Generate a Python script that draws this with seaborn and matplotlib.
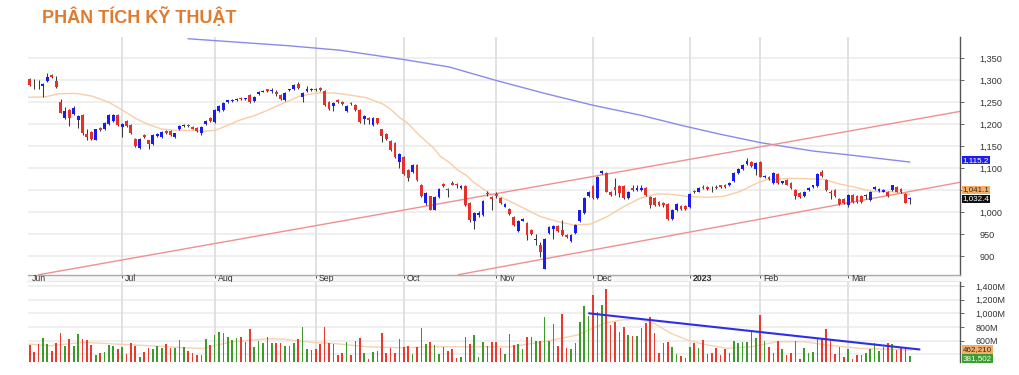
import numpy as np
import pandas as pd
import matplotlib
matplotlib.use("Agg")
import matplotlib.pyplot as plt
import seaborn as sns

# ---------------- DATA ----------------
opens = [1302,1290,1289,1286,1298,1311,1299,1251,1213,1232,1224,1209,1220,1178,1182,1165,1192,1189,1201,1208,
         1220,1193,1208,1199,1167,1146,1175,1163,1154,1173,1170,1184,1184,1172,1188,1196,1199,1194,1191,1180,
         1201,1214,1205,1230,1233,1251,1253,1255,1260,1257,1266,1253,1269,1273,1279,1276,1273,1266,1254,1277,
         1279,1292,1262,1275,1277,1281,1283,1275,1251,1241,1256,1251,1230,1248,1243,1233,1212,1214,1199,1213,
         1188,1178,1161,1158,1114,1125,1097,1092,1107,1063,1021,1036,1006,1034,1064,1053,1067,1064,1054,1059,
         1021,980,993,994,1044,1035,1041,1032,1013,1007,990,958,981,975,960,938,925,872,952,963,
         969,960,948,935,953,979,998,1036,1059,1032,1089,1089,1047,1057,1059,1060,1032,1056,1050,1051,
         1055,1034,1032,1024,1021,1018,985,1005,1015,1015,1011,1049,1047,1058,1058,1053,1058,1061,1062,1061,
         1070,1090,1098,1110,1115,1099,1115,1080,1081,1067,1087,1066,1074,1066,1051,1043,1036,1051,1057,1060,
         1091,1074,1045,1050,1030,1030,1017,1040,1037,1036,1037,1028,1053,1049,1047,1047,1050,1057,1053,1042,
         1029]
highs = [1304,1302,1300,1294,1317,1313,1309,1258,1239,1235,1242,1220,1222,1188,1185,1190,1194,1205,1222,1222,
         1222,1203,1210,1201,1169,1169,1178,1165,1177,1180,1184,1186,1186,1181,1198,1201,1201,1196,1193,1195,
         1210,1216,1234,1243,1250,1256,1257,1259,1262,1260,1268,1264,1275,1278,1281,1283,1277,1268,1273,1281,
         1291,1295,1273,1286,1283,1283,1285,1277,1253,1250,1258,1253,1244,1250,1245,1235,1220,1216,1216,1215,
         1190,1180,1163,1160,1135,1127,1099,1110,1109,1065,1046,1038,1036,1054,1067,1056,1070,1066,1061,1061,
         1023,1000,1002,1028,1048,1038,1046,1034,1021,1009,992,983,986,977,962,950,933,942,969,971,
         971,982,950,950,973,1006,1034,1049,1061,1082,1097,1091,1049,1078,1062,1062,1048,1062,1062,1062,
         1057,1036,1034,1026,1023,1020,1007,1020,1017,1017,1043,1051,1057,1061,1060,1060,1061,1063,1064,1068,
         1091,1100,1110,1123,1117,1113,1117,1085,1083,1091,1089,1072,1076,1068,1053,1045,1049,1058,1063,1089,
         1095,1076,1050,1052,1032,1032,1042,1042,1039,1040,1042,1049,1059,1055,1053,1049,1063,1059,1055,1044,
         1035]
lows = [1286,1281,1281,1262,1296,1305,1283,1225,1211,1195,1220,1192,1176,1163,1165,1163,1184,1187,1199,1206,
        1196,1170,1193,1178,1148,1144,1168,1144,1152,1171,1168,1178,1173,1168,1186,1194,1194,1188,1183,1176,
        1199,1205,1203,1228,1231,1249,1251,1253,1256,1255,1249,1251,1267,1272,1273,1270,1263,1256,1252,1275,
        1277,1281,1250,1273,1275,1275,1275,1241,1233,1229,1249,1244,1228,1243,1231,1203,1200,1200,1197,1201,
        1160,1165,1140,1123,1100,1084,1070,1090,1072,1034,1016,1004,1004,1032,1058,1034,1061,1055,1052,1015,
        978,963,990,992,1036,1005,1033,1019,1011,994,969,956,979,937,948,925,899,870,950,939,
        955,946,941,933,951,977,996,1034,1030,1030,1087,1045,1038,1040,1035,1030,1030,1049,1048,1049,
        1038,1010,1015,1015,1012,983,983,1003,1006,1006,1009,1043,1045,1053,1050,1045,1053,1055,1056,1059,
        1068,1088,1096,1108,1102,1085,1079,1078,1073,1065,1064,1064,1061,1053,1030,1032,1034,1049,1055,1058,
        1080,1049,1030,1034,1017,1018,1013,1022,1021,1022,1030,1026,1051,1047,1045,1035,1048,1045,1043,1020,
        1018]
closes = [1289,1288,1288,1292,1308,1307,1284,1226,1231,1214,1237,1218,1180,1170,1167,1188,1186,1203,1220,1220,
          1198,1201,1195,1180,1150,1167,1171,1154,1175,1178,1182,1180,1175,1179,1196,1199,1196,1190,1185,1193,
          1208,1207,1232,1241,1248,1254,1255,1257,1258,1258,1251,1262,1273,1276,1275,1277,1269,1258,1271,1279,
          1289,1283,1271,1280,1281,1277,1277,1243,1235,1248,1251,1246,1242,1245,1233,1205,1218,1210,1214,1203,
          1173,1167,1142,1125,1133,1086,1078,1108,1074,1036,1044,1006,1034,1052,1060,1050,1063,1061,1059,1017,
          983,998,999,1026,1041,1030,1036,1021,1019,996,971,981,984,948,950,940,910,940,967,969,
          957,948,943,948,971,1004,1032,1047,1032,1080,1093,1047,1040,1050,1043,1032,1046,1051,1055,1055,
          1040,1017,1017,1017,1017,985,1005,1018,1008,1008,1041,1045,1055,1055,1052,1052,1055,1057,1058,1066,
          1089,1098,1108,1117,1104,1111,1081,1083,1075,1089,1066,1070,1063,1055,1036,1034,1047,1056,1061,1087,
          1082,1051,1044,1036,1019,1020,1040,1024,1023,1024,1039,1047,1057,1053,1051,1037,1061,1047,1045,1022,
          1032]
volumes_m = [537,439,546,634,546,449,561,707,522,629,522,693,620,610,532,385,415,434,537,522,
             473,502,410,561,522,361,439,488,478,522,488,546,488,488,605,502,449,415,395,395,
             620,537,683,732,707,659,610,634,659,585,766,512,595,571,649,571,571,571,522,522,
             561,620,795,478,463,473,546,805,561,546,390,415,580,390,600,644,415,327,439,449,
             707,424,498,424,620,507,522,405,507,790,551,585,537,405,512,449,478,351,361,649,
             551,683,361,580,522,585,585,498,405,698,537,546,473,649,649,600,600,941,595,839,
             527,985,488,483,561,878,1107,961,1268,1015,1117,1361,829,878,732,805,683,668,668,790,
             854,951,707,424,571,576,512,400,376,351,512,571,498,610,400,424,498,390,473,415,
             595,561,585,585,746,644,976,595,512,415,595,483,385,424,595,337,498,424,434,634,
             629,766,620,405,512,366,473,327,385,390,424,483,561,454,512,561,551,463,498,488,
             381.5]

month_labels = ["Jun", "Jul", "Aug", "Sep", "Oct", "Nov", "Dec", "2023", "Feb", "Mar"]
month_pos = [-0.3, 21, 42, 65, 85, 106, 128, 150, 166, 186]

ma20_pos = [-0.4, 3.5, 6.5, 10.3, 14.1, 17.9, 20.9, 23.9, 27, 30, 33, 36.8, 39.8, 42.1, 44.4, 47.4, 51.2,
            53.9, 57.7, 61.5, 65.3, 69.1, 72.8, 76.6, 80.4, 82, 84.2, 85.7, 88, 89.5, 91.8, 93.3, 95.5,
            97.1, 99.3, 100.9, 102.3, 104.7, 108.5, 112.3, 116.1, 119.9, 123.6, 127.4, 131.2, 135, 138.8,
            142.6, 146.4, 149.5, 153.8, 157.6, 161.4, 165.2, 167.5, 169.7, 172.7, 176.5, 180.3, 184.1,
            187.9, 191.7, 195.5, 200]
ma20_val = [1261, 1262, 1269, 1270, 1264, 1250, 1233, 1214, 1199, 1189, 1186, 1186, 1184, 1186, 1195, 1208, 1220,
            1231, 1248, 1264, 1271, 1271, 1266, 1260, 1245, 1234, 1214, 1204, 1180, 1166, 1146, 1127, 1112,
            1097, 1083, 1068, 1058, 1042, 1028, 1009, 990, 979, 971, 973, 990, 1013, 1032,
            1042, 1040, 1036, 1034, 1036, 1047, 1066, 1074, 1075, 1077, 1076, 1075, 1064,
            1056, 1047, 1047, 1041]

ma200_pos = [36, 49, 59, 70.5, 84.9, 95.3, 106.1, 117, 128, 139, 147.8, 157, 166.1, 178, 186.4, 194, 200]
ma200_val = [1394, 1385, 1378, 1368, 1347, 1330, 1299, 1270, 1243, 1220, 1198, 1177, 1158, 1139, 1130, 1121, 1114]

vma_pos = [-0.3, 4.6, 12.2, 19.8, 27.3, 34.9, 39.5, 42.5, 46.3, 53.9, 57.7, 61.4, 65.2, 69, 76.6, 84.2, 91.7,
           99.3, 106.9, 109.2, 116.8, 124.4, 130.5, 134.3, 138.1, 141.9, 145.7, 149.5, 153.3, 158.6, 163.9,
           169.9, 176, 181.3, 188.9, 196.4, 200.5]
vma_val = [551, 527, 576, 551, 527, 498, 488, 537, 585, 629, 624, 595, 571, 561, 512, 498, 512,
           512, 512, 512, 585, 683, 854, 902, 917, 854, 707, 610, 546, 488, 512,
           585, 585, 537, 488, 473, 462]

upper_channel_pos = [2.0, 211.4]
upper_channel_val = [858, 1229]
lower_channel_pos = [97.3, 211.4]
lower_channel_val = [858, 1068]
vol_trend_pos = [127.1, 202.2]
vol_trend_val = [1000, 473]

price_ticks = [900, 950, 1000, 1050, 1100, 1150, 1200, 1250, 1300, 1350]
price_tick_labels = ["900", "950", "1,000", "", "1,100", "1,150", "1,200", "1,250", "1,300", "1,350"]
vol_ticks = [600, 800, 1000, 1200, 1400]
vol_tick_labels = ["600M", "800M", "1,000M", "1,200M", "1,400M"]

last_ma200_label = "1,115.2"
last_ma20_label = "1,041.1"
last_close_label = "1,032.4"
last_vma_label = "462,210"
last_vol_label = "381,502"

# ---------------- STYLE ----------------
sns.set_theme(style="white")
plt.rcParams['font.family'] = ['Liberation Sans', 'DejaVu Sans']

UP = "#1a1af2"
DOWN = "#e8302a"
VUP = "#3f9a2c"
VDOWN = "#ea3a30"
GRID = "#ececec"
VGRID = "#dedede"
TXT = "#333333"

W, H = 1020, 375
fig = plt.figure(figsize=(10.2, 3.75), dpi=100)

def fx(px):
    return px / W

def fy(py):
    return 1 - py / H

x_left, x_right = 28, 960
ax = fig.add_axes([fx(x_left), fy(275), fx(x_right - x_left), fy(37) - fy(275)])
axd = fig.add_axes([fx(x_left), fy(282), fx(x_right - x_left), fy(275) - fy(282)])
axv = fig.add_axes([fx(x_left), fy(362), fx(x_right - x_left), fy(282) - fy(362)])

n = len(closes)
idx = np.arange(n)
XL = (-0.39, 211.4)

# ---------------- PRICE PANEL ----------------
for p in price_ticks:
    ax.axhline(p, color=GRID, lw=1.2, zorder=0)
for m in month_pos[1:]:
    ax.axvline(m, color=VGRID, lw=1.3, zorder=0)

o = np.array(opens, float); c = np.array(closes, float)
h = np.array(highs, float); l = np.array(lows, float)
up = c >= o
ax.vlines(idx, l, h, color="#3a3a3a", lw=0.75, zorder=2)
body_bottom = np.minimum(o, c)
body_h = np.maximum(np.abs(c - o), 1.6)
ax.bar(idx, body_h, bottom=body_bottom, width=0.66,
       color=np.where(up, UP, DOWN), edgecolor="none", zorder=3)

ma20_df = pd.DataFrame({"x": ma20_pos, "y": ma20_val})
ma200_df = pd.DataFrame({"x": ma200_pos, "y": ma200_val})
sns.lineplot(data=ma20_df, x="x", y="y", ax=ax, color="#f9cda6", lw=1.0, zorder=1)
sns.lineplot(data=ma200_df, x="x", y="y", ax=ax, color="#8a8aee", lw=1.0, zorder=1)
sns.lineplot(x=upper_channel_pos, y=upper_channel_val, ax=ax, color="#f09090", lw=1.0, zorder=1)
sns.lineplot(x=lower_channel_pos, y=lower_channel_val, ax=ax, color="#f09090", lw=1.0, zorder=1)

ax.set_xlim(*XL)
ax.set_ylim(857.5, 1398)
ax.set_xlabel(""); ax.set_ylabel("")
ax.set_xticks([])
ax.yaxis.tick_right()
ax.set_yticks(price_ticks)
ax.set_yticklabels(price_tick_labels, fontsize=6.6, color=TXT)
ax.tick_params(axis="y", right=True, length=3, width=0.7, color="#666666", pad=11)
for s in ["top", "left", "bottom"]:
    ax.spines[s].set_visible(False)
ax.spines["right"].set_color("#555555")
ax.spines["right"].set_linewidth(1.0)

# value labels on the right axis
def tag(axis, yval, text, bg, fg):
    axis.text(1.003, yval, text, transform=axis.get_yaxis_transform(), ha="left", va="center",
              fontsize=5.8, color=fg, clip_on=False, zorder=6,
              bbox=dict(boxstyle="square,pad=0.1", fc=bg, ec="none"))

tag(ax, 1118.5, last_ma200_label, "#1d1df2", "white")
tag(ax, 1050.5, last_ma20_label, "#f4ae6c", "#3a2a10")
tag(ax, 1030.0, last_close_label, "#111111", "white")

# ---------------- DATE STRIP ----------------
axd.set_xlim(*XL)
axd.set_ylim(0, 1)
axd.set_xticks([]); axd.set_yticks([])
for s in ["left", "right"]:
    axd.spines[s].set_visible(False)
axd.spines["top"].set_color("#aaaaaa"); axd.spines["top"].set_linewidth(1.0)
axd.spines["bottom"].set_color("#aaaaaa"); axd.spines["bottom"].set_linewidth(1.0)
axd.set_facecolor("#f8f8f8")
for lab, pos in zip(month_labels, month_pos):
    if lab != "Jun":
        axd.vlines(pos, 0.55, 1.0, color="#555555", lw=0.7)
    axd.text(pos + 0.7, 0.45, lab, fontsize=6.3, color=TXT, va="center", ha="left",
             fontweight="bold" if lab == "2023" else "normal")

# ---------------- VOLUME PANEL ----------------
for v in [400, 600, 800, 1000, 1200, 1400]:
    axv.axhline(v, color=GRID, lw=1.2, zorder=0)
for m in month_pos[1:]:
    axv.axvline(m, color=VGRID, lw=1.3, zorder=0)
vol = np.array(volumes_m, float)
axv.bar(idx, vol - 290, bottom=290, width=0.38,
        color=np.where(up, VUP, VDOWN), edgecolor="none", zorder=2)
sns.lineplot(x=vma_pos, y=vma_val, ax=axv, color="#f8d2b0", lw=1.0, zorder=1)
sns.lineplot(x=vol_trend_pos, y=vol_trend_val, ax=axv, color="#2e2ee8", lw=1.5, zorder=4)
axv.set_xlim(*XL)
axv.set_ylim(290, 1457)
axv.set_xlabel(""); axv.set_ylabel("")
axv.set_xticks([])
axv.yaxis.tick_right()
axv.set_yticks(vol_ticks)
axv.set_yticklabels(vol_tick_labels, fontsize=6.4, color=TXT)
axv.tick_params(axis="y", right=True, length=3, width=0.7, color="#666666", pad=8)
for s in ["top", "left", "bottom"]:
    axv.spines[s].set_visible(False)
axv.spines["right"].set_color("#555555")
axv.spines["right"].set_linewidth(1.0)

tag(axv, 474, last_vma_label, "#f4ae6c", "#3a2a10")
tag(axv, 345, last_vol_label, "#3a9e30", "white")

# ---------------- TITLE ----------------
fig.text(fx(42), fy(17), "PHÂN TÍCH KỸ THUẬT", fontsize=13, fontweight="bold",
         color="#e07a2e", ha="left", va="center")

fig.savefig("out.png", dpi=100, facecolor="white")
